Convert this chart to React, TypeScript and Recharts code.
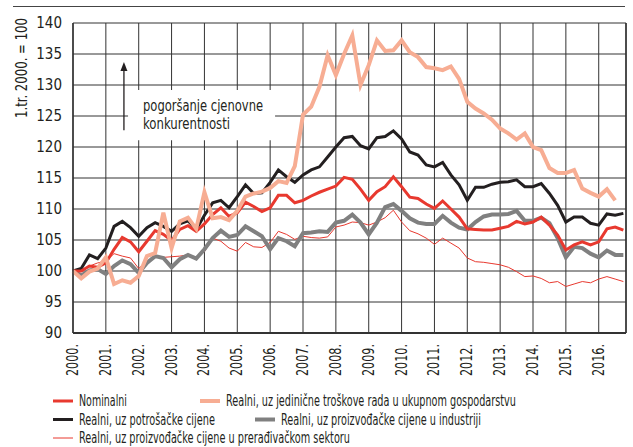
import React from 'react';
import { LineChart, Line, XAxis, YAxis, CartesianGrid, ReferenceArea, ReferenceLine } from 'recharts';

// quarterly index, 1Q 2000 = 100
const years = [2000, 2001, 2002, 2003, 2004, 2005, 2006, 2007, 2008, 2009, 2010, 2011, 2012, 2013, 2014, 2015, 2016];
const yTicks = [90, 95, 100, 105, 110, 115, 120, 125, 130, 135, 140];

const nominal = [
  100, 100, 100.8, 100.6, 101.3, 103.5, 105.4, 104.7, 103.1, 104.8, 106.5, 105.9,
  104.9, 106.7, 107.3, 106.4, 107.6, 109.1, 110.2, 108.8, 109.4, 111.1, 110.4, 109.6,
  110.2, 112.2, 112.2, 111, 111.4, 112.1, 112.7, 113.2, 113.7, 115.1, 114.8, 113.2,
  111.4, 112.8, 113.6, 115.2, 113.6, 111.9, 111.7, 110.8, 110.1, 111.3, 110, 108.7,
  106.8, 106.7, 106.6, 106.6, 106.9, 107.2, 108, 107.6, 107.9, 108.7, 107.4, 105.8,
  103.4, 104.2, 104.7, 104.2, 104.7, 106.8, 107.1, 106.6,
];
const unitLabour = [
  100, 98.8, 99.9, 100.4, 102.2, 97.9, 98.5, 98.1, 99.2, 102.4, 102.9, 109.4,
  103.7, 108, 108.6, 106.8, 112.7, 108.5, 108.7, 108.2, 109.7, 112, 112.5, 112.8,
  113.4, 114.5, 114.2, 116.9, 125.2, 126.5, 129.7, 134.8, 131.6, 135, 138, 130,
  133.2, 137.2, 135.5, 135.6, 137.2, 135.3, 134.5, 132.9, 132.7, 132.4, 133, 131,
  127.3, 126.2, 125.4, 124.4, 123, 122.2, 121.2, 122.2, 120, 119.5, 116.6, 115.8,
  115.8, 116.3, 113.3, 112.6, 112, 113.2, 111.4, null,
];
const consumer = [
  100, 100.4, 102.6, 102, 103.7, 107.2, 108, 107, 105.6, 107, 107.8, 107.2,
  106.4, 107.6, 108.1, 106.7, 109, 111, 111.4, 110.2, 112, 113.9, 112.5, 112.6,
  114.3, 116.3, 115.2, 114.3, 115.5, 116.3, 116.8, 118.4, 120, 121.5, 121.7, 120.2,
  119.7, 121.5, 121.7, 122.6, 121.3, 119.2, 118.7, 117.1, 116.8, 117.5, 115.5, 113.9,
  111.4, 113.5, 113.5, 114, 114.3, 114.4, 114.7, 113.6, 113.6, 114.1, 112.5, 110.6,
  107.9, 108.7, 108.7, 107.7, 107.4, 109.2, 109, 109.3,
];
const industry = [
  100, 99.3, 100.1, 100.3, 99.5, 100.8, 101.7, 101.1, 99.7, 101.3, 102.4, 102.1,
  100.6, 101.9, 102.6, 102, 103.5, 105.3, 106.5, 105.5, 105.8, 107.2, 106.4, 105.6,
  103.5, 105.3, 104.8, 104, 106.1, 106.2, 106.4, 106.3, 107.8, 108.1, 109.1, 107.8,
  105.9, 107.8, 110.3, 110.8, 109.7, 108.5, 107.8, 107.6, 107.6, 108.9, 107.8, 107,
  106.7, 107.9, 108.8, 109.1, 109.1, 109.2, 109.7, 108.1, 108.1, 108.6, 107.7, 105.3,
  102.2, 103.9, 103.7, 102.8, 102.2, 103.3, 102.6, 102.6,
];
const manufacturing = [
  100, 99.9, 100.8, 101.3, 101.6, 102.8, 102.4, 102.1, 100.4, 101.6, 102.3, 102.2,
  102.3, 102.4, 102.6, 102.2, 103.1, 105.3, 104.8, 103.7, 103.2, 104.6, 103.9, 103.8,
  104.6, 106.4, 105.9, 105.1, 105.6, 105.4, 105.3, 105.5, 107.1, 107.4, 107.9, 107.8,
  107.4, 107.9, 108.6, 109.8, 107.9, 106.5, 106, 105.3, 104.3, 105.3, 104.5, 103.7,
  102.1, 101.5, 101.4, 101.2, 101, 100.6, 99.9, 99.1, 99.2, 98.8, 98.1, 98.3,
  97.5, 97.9, 98.3, 98.1, 98.7, 99.1, 98.7, 98.3,
];

const data = nominal.map((v, i) => ({
  t: 2000 + i / 4,
  nominal: v,
  unitLabour: unitLabour[i],
  consumer: consumer[i],
  industry: industry[i],
  manufacturing: manufacturing[i],
}));

const FONT = "'Liberation Sans Narrow', 'DejaVu Sans Condensed', Arial, sans-serif";
const INK = '#231f20';
const GRID = '#333333';
const RED = '#e8392f';
const SALMON = '#f7ad93';
const GRAY = '#808080';
const X_MAX = 2016.83;

// legend entries: sample position and text width to match the condensed face
const legendItems = [
  { label: 'Nominalni', color: RED, width: 3, left: 53, row: 0, len: 48 },
  { label: 'Realni, uz jedinične troškove rada u ukupnom gospodarstvu', color: SALMON, width: 4, left: 200, row: 0, len: 290 },
  { label: 'Realni, uz potrošačke cijene', color: INK, width: 3, left: 53, row: 1, len: 136 },
  { label: 'Realni, uz proizvođačke cijene u industriji', color: GRAY, width: 4, left: 255, row: 1, len: 200 },
  { label: 'Realni, uz proizvođačke cijene u prerađivačkom sektoru', color: RED, width: 1, left: 53, row: 2, len: 271 },
];

const YearTick = (props: any) => {
  const { x, y, payload } = props;
  return (
    <text
      x={x}
      y={y + 3}
      transform={`rotate(-90 ${x} ${y + 3})`}
      textAnchor="end"
      dominantBaseline="central"
      fontSize={15}
      fontFamily={FONT}
      fill={INK}
      textLength={32}
      lengthAdjust="spacingAndGlyphs"
    >
      {payload.value}.
    </text>
  );
};

const Arrow = (props: any) => {
  const { x1, y1, x2, y2 } = props;
  const top = Math.min(y1, y2);
  const bottom = Math.max(y1, y2);
  return (
    <g>
      <line x1={x1} y1={bottom} x2={x1} y2={top + 6} stroke={INK} strokeWidth={1.3} />
      <polygon points={`${x1},${top} ${x1 - 3.5},${top + 9} ${x1 + 3.5},${top + 9}`} fill={INK} />
    </g>
  );
};

export default function App() {
  return (
    <div style={{ position: 'absolute', left: 0, top: 0, width: 633, height: 447, background: '#fff', overflow: 'hidden' }}>
      <LineChart width={633} height={447} data={data} margin={{ top: 23, right: 7, left: 0, bottom: 0 }}>
        <CartesianGrid stroke={GRID} strokeWidth={1} />
        <XAxis
          dataKey="t"
          type="number"
          domain={[2000, X_MAX]}
          ticks={years}
          interval={0}
          height={114}
          tick={<YearTick />}
          tickLine={false}
          axisLine={{ stroke: GRID, strokeWidth: 2 }}
        />
        <YAxis
          domain={[90, 140]}
          ticks={yTicks}
          interval={0}
          width={73}
          tickLine={false}
          tickMargin={5}
          axisLine={{ stroke: GRID, strokeWidth: 1.5 }}
          tick={{ fontSize: 15, fontFamily: FONT, fill: INK }}
          label={{
            content: () => (
              <text
                x={22}
                y={68}
                transform="rotate(-90 22 68)"
                textAnchor="middle"
                dominantBaseline="central"
                fontSize={15}
                fontFamily={FONT}
                fill={INK}
                textLength={100}
                lengthAdjust="spacingAndGlyphs"
              >
                1.tr. 2000. = 100
              </text>
            ),
          }}
        />
        <ReferenceLine x={X_MAX} stroke={GRID} strokeWidth={1.5} />
        <ReferenceArea
          x1={2001.675}
          x2={2006.15}
          y1={121.1}
          y2={129.2}
          fill="#fff"
          fillOpacity={1}
          stroke="none"
          label={{
            content: (p: any) => {
              const { x, y } = p.viewBox;
              return (
                <text fontSize={16} fontFamily={FONT} fill={INK}>
                  <tspan x={x + 15} y={y + 21} textLength={120} lengthAdjust="spacingAndGlyphs">
                    pogoršanje cjenovne
                  </tspan>
                  <tspan x={x + 15} y={y + 39} textLength={87} lengthAdjust="spacingAndGlyphs">
                    konkurentnosti
                  </tspan>
                </text>
              );
            },
          }}
        />
        <ReferenceLine
          segment={[
            { x: 2001.55, y: 122.7 },
            { x: 2001.55, y: 133.7 },
          ]}
          shape={<Arrow />}
        />
        <Line dataKey="manufacturing" stroke={RED} strokeWidth={1} dot={false} isAnimationActive={false} />
        <Line dataKey="industry" stroke={GRAY} strokeWidth={4} dot={false} isAnimationActive={false} />
        <Line dataKey="consumer" stroke={INK} strokeWidth={3} dot={false} isAnimationActive={false} />
        <Line dataKey="nominal" stroke={RED} strokeWidth={3} dot={false} isAnimationActive={false} />
        <Line dataKey="unitLabour" stroke={SALMON} strokeWidth={4} dot={false} isAnimationActive={false} />
      </LineChart>
      <svg width={633} height={447} style={{ position: 'absolute', left: 0, top: 0, pointerEvents: 'none' }}>
        <line x1={13} y1={6.5} x2={625} y2={6.5} stroke="#444" strokeWidth={1} />
        {legendItems.map((item) => {
          const cy = 401 + item.row * 18.5;
          return (
            <g key={item.label}>
              <line x1={item.left} y1={cy} x2={item.left + 20} y2={cy} stroke={item.color} strokeWidth={item.width} />
              <text
                x={item.left + 26}
                y={cy}
                dominantBaseline="central"
                fontSize={15}
                fontFamily={FONT}
                fill={INK}
                textLength={item.len}
                lengthAdjust="spacingAndGlyphs"
              >
                {item.label}
              </text>
            </g>
          );
        })}
      </svg>
    </div>
  );
}
